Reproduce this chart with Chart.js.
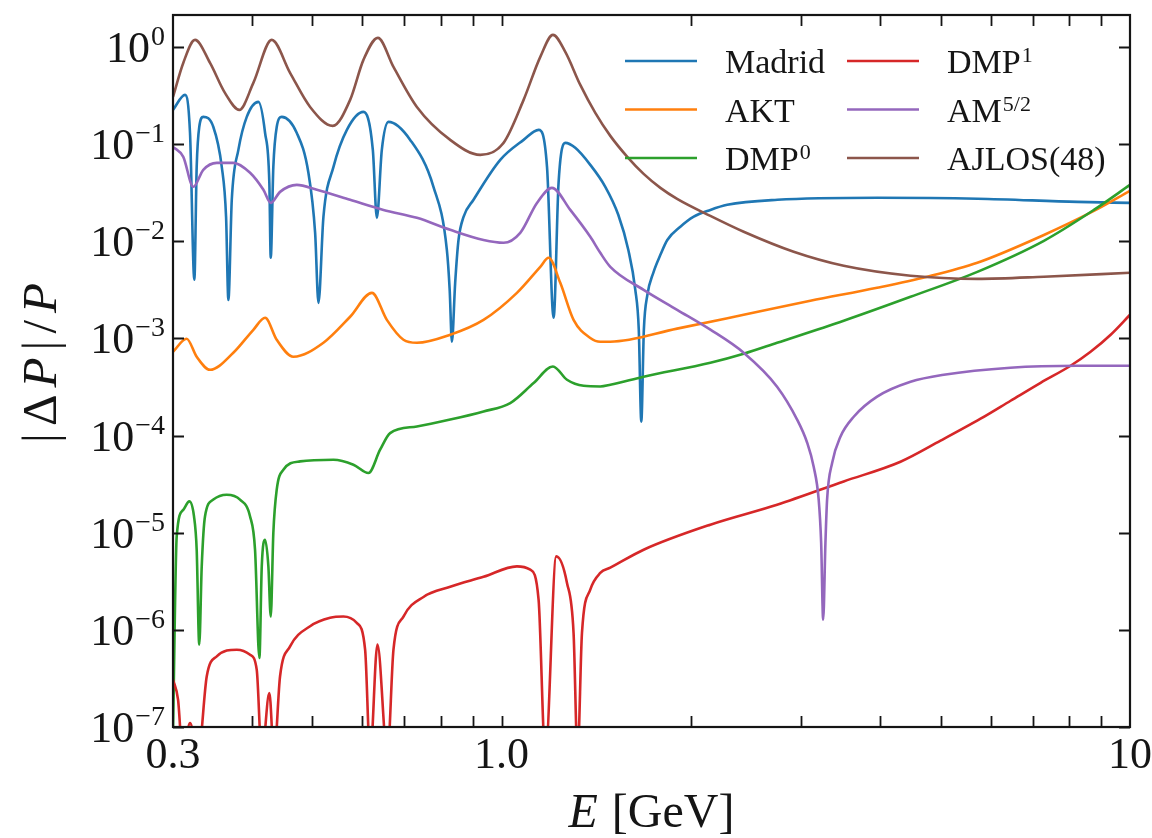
<!DOCTYPE html>
<html>
<head>
<meta charset="utf-8">
<script src="https://cdn.jsdelivr.net/npm/chart.js@4.4.1/dist/chart.umd.min.js"></script>
<style>
  html, body { margin: 0; padding: 0; background: #ffffff; }
  #wrap { width: 1152px; height: 838px; }
</style>
</head>
<body>
<div id="wrap"><canvas id="chart" width="1152" height="838"></canvas></div>
<script>
// Relative precision |ΔP|/P versus energy E [GeV] for six parametrisations.

const madridE = [0.300, 0.3135, 0.3193, 0.3244, 0.3272, 0.3303, 0.3352, 0.3478, 0.3587, 0.3644, 0.3675, 0.3721, 0.3812, 0.3931, 0.4102, 0.4204, 0.4270, 0.4292, 0.4333, 0.4387, 0.4469, 0.4722, 0.4927, 0.5050, 0.5112, 0.5206, 0.5401, 0.5673, 0.6028, 0.6239, 0.6332, 0.6448, 0.6606, 0.7154, 0.7791, 0.8183, 0.8268, 0.8336, 0.8436, 0.8540, 0.8699, 0.9023, 0.9952, 1.0840, 1.1452, 1.1811, 1.2100, 1.2322, 1.2629, 1.3099, 1.3840, 1.4623, 1.5335, 1.5908, 1.6323, 1.6532, 1.6685, 1.6843, 1.7062, 1.7435, 1.7894, 1.8354, 1.9254, 2.019, 2.149, 2.286, 2.747, 3.964, 5.72, 8.25, 10.0];
const madridV = [0.225, 0.321, 0.130, 0.00401, 0.0582, 0.150, 0.1905, 0.150, 0.0582, 0.0178, 0.00249, 0.0267, 0.0871, 0.1905, 0.272, 0.130, 0.0399, 0.00675, 0.0582, 0.150, 0.1905, 0.130, 0.0506, 0.0122, 0.00232, 0.0178, 0.0582, 0.140, 0.2143, 0.0871, 0.0174, 0.0871, 0.169, 0.1104, 0.0363, 0.00816, 0.00316, 0.000923, 0.00373, 0.0103, 0.0178, 0.0267, 0.0688, 0.1104, 0.140, 0.0582, 0.00163, 0.0399, 0.1028, 0.0914, 0.0611, 0.0363, 0.0187, 0.00816, 0.00316, 0.00123, 0.000139, 0.00123, 0.00281, 0.00473, 0.00724, 0.0103, 0.0141, 0.0178, 0.0210, 0.0237, 0.0267, 0.0280, 0.0274, 0.0254, 0.0248];

const aktE = [0.300, 0.3154, 0.3272, 0.3436, 0.3742, 0.4027, 0.4204, 0.4387, 0.4664, 0.5206, 0.5741, 0.6218, 0.6568, 0.6980, 0.7332, 0.8284, 0.9360, 1.0578, 1.1524, 1.1879, 1.2399, 1.3018, 1.3840, 1.4356, 1.4894, 1.9025, 2.428, 3.100, 3.959, 4.756, 5.715, 7.294, 8.76, 10.0];
const aktV = [7.28e-4, 9.91e-4, 6.47e-4, 4.75e-4, 7.11e-4, 1.226e-3, 1.63e-3, 9.68e-4, 6.47e-4, 9.01e-4, 1.67e-3, 2.94e-3, 1.55e-3, 9.68e-4, 9.01e-4, 1.09e-3, 1.55e-3, 2.94e-3, 5.45e-3, 6.75e-3, 3.73e-3, 1.55e-3, 1.01e-3, 9.23e-4, 9.23e-4, 1.26e-3, 1.75e-3, 2.44e-3, 3.32e-3, 4.31e-3, 6.00e-3, 1.16e-2, 2.05e-2, 3.30e-2];

const dmp0E = [0.300, 0.3041, 0.3115, 0.3185, 0.3240, 0.3272, 0.3303, 0.3333, 0.3373, 0.3478, 0.3652, 0.3835, 0.3979, 0.4052, 0.4117, 0.4153, 0.4204, 0.4255, 0.4292, 0.4333, 0.4387, 0.4495, 0.4779, 0.5401, 0.5811, 0.6139, 0.6408, 0.6647, 0.7332, 0.8284, 0.9360, 1.0322, 1.1244, 1.2072, 1.2708, 1.3505, 1.4356, 1.4894, 1.6828, 2.149, 2.428, 2.744, 3.503, 4.475, 5.715, 7.294, 8.76, 10.0];
const dmp0V = [9e-8, 9.16e-6, 1.72e-5, 2.10e-5, 1.47e-5, 6.68e-6, 7.05e-7, 4.50e-6, 1.47e-5, 2.19e-5, 2.46e-5, 2.19e-5, 1.47e-5, 6.68e-6, 5.13e-7, 4.50e-6, 8.47e-6, 4.50e-6, 1.37e-6, 9.93e-6, 2.77e-5, 4.44e-5, 5.42e-5, 5.64e-5, 5.01e-5, 4.11e-5, 7.14e-5, 1.06e-4, 1.24e-4, 1.46e-4, 1.77e-4, 2.16e-4, 3.47e-4, 5.14e-4, 3.75e-4, 3.25e-4, 3.20e-4, 3.33e-4, 4.03e-4, 5.61e-4, 6.95e-4, 9.01e-4, 1.52e-3, 2.68e-3, 4.84e-3, 1.01e-2, 2.10e-2, 3.80e-2];

const dmp1E = [0.300, 0.3056, 0.3110, 0.3193, 0.3288, 0.3395, 0.3522, 0.3790, 0.3979, 0.4077, 0.4153, 0.4270, 0.4344, 0.4441, 0.4607, 0.4958, 0.5335, 0.5601, 0.5882, 0.6065, 0.6178, 0.6345, 0.6581, 0.6729, 0.6980, 0.7511, 0.8284, 0.9360, 1.0578, 1.1109, 1.1452, 1.1737, 1.2219, 1.2708, 1.3018, 1.3211, 1.3425, 1.3840, 1.4356, 1.4894, 1.6828, 2.149, 2.744, 3.503, 4.313, 4.995, 5.784, 6.456, 7.207, 8.043, 8.655, 9.316, 10.0];
const dmp1V = [3.08e-7, 1.91e-7, 5e-8, 1.1e-7, 5e-8, 3.33e-7, 5.34e-7, 6.25e-7, 5.55e-7, 3.90e-7, 5e-8, 2.24e-7, 5e-8, 3.33e-7, 6.76e-7, 1.09e-6, 1.33e-6, 1.37e-6, 1.18e-6, 6.25e-7, 5e-8, 7.05e-7, 5e-8, 6.25e-7, 1.37e-6, 2.18e-6, 2.77e-6, 3.51e-6, 4.50e-6, 4.16e-6, 2.05e-6, 5e-8, 5.70e-6, 3.04e-6, 9.29e-7, 5e-8, 9.29e-7, 2.59e-6, 3.85e-6, 4.36e-6, 6.68e-6, 1.21e-5, 1.94e-5, 3.37e-5, 5.37e-5, 8.85e-5, 1.49e-4, 2.28e-4, 3.49e-4, 5.23e-4, 7.28e-4, 1.09e-3, 1.75e-3];

const am52E = [0.300, 0.3115, 0.3232, 0.3352, 0.3522, 0.3742, 0.3979, 0.4178, 0.4292, 0.4441, 0.4722, 0.5082, 0.5741, 0.6487, 0.7332, 0.8284, 0.9360, 1.0072, 1.0707, 1.1384, 1.2026, 1.2863, 1.3840, 1.4356, 1.4894, 1.6828, 1.9025, 2.149, 2.428, 2.744, 2.953, 3.064, 3.138, 3.196, 3.225, 3.249, 3.276, 3.296, 3.358, 3.461, 3.634, 3.959, 4.475, 5.055, 6.45, 8.24, 10.0];
const am52V = [0.0936, 0.0739, 0.0363, 0.0543, 0.0641, 0.0641, 0.0506, 0.0338, 0.0248, 0.0322, 0.0380, 0.0338, 0.0267, 0.0210, 0.0174, 0.0131, 0.0103, 0.00964, 0.0122, 0.0248, 0.0354, 0.0210, 0.0111, 0.00760, 0.00545, 0.00316, 0.00197, 0.00123, 7.11e-4, 3.18e-4, 1.46e-4, 8.43e-5, 4.77e-5, 2.19e-5, 7.89e-6, 1.27e-6, 7.89e-6, 2.19e-5, 5.25e-5, 9.72e-5, 1.56e-4, 2.51e-4, 3.57e-4, 4.22e-4, 4.99e-4, 5.23e-4, 5.23e-4];

const ajlosE = [0.300, 0.3115, 0.3252, 0.3436, 0.3629, 0.3826, 0.4027, 0.4308, 0.4607, 0.4958, 0.5388, 0.5741, 0.6028, 0.6355, 0.6729, 0.7332, 0.8284, 0.9249, 1.0072, 1.0840, 1.1524, 1.2072, 1.2629, 1.3343, 1.4097, 1.4894, 1.5850, 1.6828, 1.7894, 1.9025, 2.149, 2.428, 2.916, 3.503, 4.475, 5.715, 7.294, 10.0];
const ajlosV = [0.306, 0.684, 1.18, 0.684, 0.336, 0.225, 0.426, 1.18, 0.541, 0.241, 0.154, 0.285, 0.735, 1.24, 0.623, 0.241, 0.1104, 0.0774, 0.1028, 0.285, 0.789, 1.33, 0.888, 0.406, 0.2094, 0.1214, 0.0739, 0.0493, 0.0354, 0.0273, 0.0182, 0.0125, 0.00778, 0.00558, 0.00441, 0.00410, 0.00431, 0.00473];

// series names, superscripts and colours (legend order: column-major, 3 rows)
const seriesNames = ['Madrid', 'AKT', 'DMP', 'DMP', 'AM', 'AJLOS(48)'];
const seriesSups  = ['', '', '0', '1', '5/2', ''];
const seriesColors = ['#1f77b4', '#ff7f0e', '#2ca02c', '#d62728', '#9467bd', '#8c564b'];
const seriesE = [madridE, aktE, dmp0E, dmp1E, am52E, ajlosE];
const seriesV = [madridV, aktV, dmp0V, dmp1V, am52V, ajlosV];

// axis ticks and labels
const xTickLabelValues = [0.3, 1, 10];
const xTickLabels = ['0.3', '1.0', '10'];
const xTickMarks = [0.4, 0.5, 0.6, 0.7, 0.8, 0.9, 1, 2, 3, 4, 5, 6, 7, 8, 9];
const yTickValues = [1, 1e-1, 1e-2, 1e-3, 1e-4, 1e-5, 1e-6, 1e-7];
const yTickExponents = ['0', '\u22121', '\u22122', '\u22123', '\u22124', '\u22125', '\u22126', '\u22127'];

const SERIF = '"Liberation Serif", "DejaVu Serif", serif';
const INK = '#151515';

const datasets = seriesNames.map((name, i) => ({
  label: name + seriesSups[i],
  sup: seriesSups[i],
  baseName: name,
  data: seriesE[i].map((e, k) => ({ x: e, y: seriesV[i][k] })),
  borderColor: seriesColors[i],
  backgroundColor: seriesColors[i],
  borderWidth: 2.6,
  pointRadius: 0,
  fill: false,
  cubicInterpolationMode: 'monotone',
  order: seriesNames.length - i
}));

// frame, inward ticks, tick labels, axis titles and legend
const decorations = {
  id: 'decorations',
  afterDraw(chart) {
    const { ctx, chartArea: a, scales } = chart;
    const xs = scales.x, ys = scales.y;
    ctx.save();

    // inward tick marks on all four sides
    ctx.strokeStyle = INK;
    ctx.lineWidth = 1.8;
    const TL = 11;
    ctx.beginPath();
    xTickMarks.forEach(v => {
      const px = Math.round(xs.getPixelForValue(v)) + 0.5;
      ctx.moveTo(px, a.bottom); ctx.lineTo(px, a.bottom - TL);
      ctx.moveTo(px, a.top); ctx.lineTo(px, a.top + TL);
    });
    yTickValues.forEach(v => {
      const py = Math.round(ys.getPixelForValue(v)) + 0.5;
      ctx.moveTo(a.left, py); ctx.lineTo(a.left + TL, py);
      ctx.moveTo(a.right, py); ctx.lineTo(a.right - TL, py);
    });
    ctx.stroke();

    // frame
    ctx.lineWidth = 2.2;
    ctx.strokeRect(a.left, a.top, a.right - a.left, a.bottom - a.top);

    ctx.fillStyle = INK;
    ctx.textBaseline = 'alphabetic';

    // y tick labels 10^k
    const mainFont = '44px ' + SERIF;
    const supFont = '28px ' + SERIF;
    yTickValues.forEach((v, i) => {
      const py = ys.getPixelForValue(v);
      ctx.font = supFont;
      const sw = ctx.measureText(yTickExponents[i]).width;
      ctx.font = mainFont;
      const mw = ctx.measureText('10').width;
      const right = a.left - 8;
      ctx.textAlign = 'left';
      ctx.fillText('10', right - sw - mw - 1, py + 15);
      ctx.font = supFont;
      ctx.fillText(yTickExponents[i], right - sw, py - 2);
    });

    // x tick labels
    ctx.font = mainFont;
    ctx.textAlign = 'center';
    xTickLabelValues.forEach((v, i) => {
      ctx.fillText(xTickLabels[i], xs.getPixelForValue(v), 768);
    });

    // x axis title: E [GeV]
    const tFont = '48px ' + SERIF;
    const tItal = 'italic 48px ' + SERIF;
    ctx.textAlign = 'left';
    ctx.font = tItal;
    const wE = ctx.measureText('E').width;
    ctx.font = tFont;
    const wR = ctx.measureText('[GeV]').width;
    const gap = 14;
    const cx = (a.left + a.right) / 2;
    const sx = cx - (wE + gap + wR) / 2;
    ctx.font = tItal; ctx.fillText('E', sx, 827);
    ctx.font = tFont; ctx.fillText('[GeV]', sx + wE + gap, 827);

    // y axis title: |ΔP|/P (rotated)
    const pieces = [['|', false], ['\u0394', false], ['P', true], ['|', false], ['/', false], ['P', true]];
    const yFont = '49px ' + SERIF, yItal = 'italic 49px ' + SERIF;
    const widths = pieces.map(([t, it]) => { ctx.font = it ? yItal : yFont; return ctx.measureText(t).width; });
    const natural = widths.reduce((s, w) => s + w, 0);
    const target = 160;
    const g = Math.max(0, (target - natural) / (pieces.length - 1));
    ctx.save();
    ctx.translate(56, (a.top + a.bottom) / 2 - 8);
    ctx.rotate(-Math.PI / 2);
    let tx = -target / 2;
    pieces.forEach(([t, it], i) => {
      ctx.font = it ? yItal : yFont;
      ctx.fillText(t, tx, 0);
      tx += widths[i] + g;
    });
    ctx.restore();

    // legend: two columns of three entries
    const lFont = '34px ' + SERIF, lSup = '22px ' + SERIF;
    chart.data.datasets.forEach((ds, i) => {
      const col = Math.floor(i / 3), row = i % 3;
      const x0 = 625 + col * 222;
      const yRow = 61 + row * 48.5;
      ctx.strokeStyle = ds.borderColor;
      ctx.lineWidth = 2.6;
      ctx.beginPath();
      ctx.moveTo(x0, yRow); ctx.lineTo(x0 + 72, yRow);
      ctx.stroke();
      ctx.fillStyle = INK;
      ctx.font = lFont;
      ctx.fillText(ds.baseName, x0 + 100, yRow + 12);
      if (ds.sup) {
        const w = ctx.measureText(ds.baseName).width;
        ctx.font = lSup;
        ctx.fillText(ds.sup, x0 + 100 + w + 1, yRow + 1);
      }
    });

    ctx.restore();
  }
};

new Chart(document.getElementById('chart'), {
  type: 'line',
  data: { datasets },
  options: {
    responsive: false,
    animation: false,
    devicePixelRatio: 1,
    layout: { padding: { left: 0, right: 22, top: 15, bottom: 0 } },
    plugins: { legend: { display: false }, tooltip: { enabled: false } },
    scales: {
      x: {
        type: 'logarithmic', min: 0.3, max: 10,
        grid: { display: false }, border: { display: false },
        ticks: { display: false },
        afterFit(s) { s.height = 111; }
      },
      y: {
        type: 'logarithmic', min: 1e-7, max: 2.13,
        grid: { display: false }, border: { display: false },
        ticks: { display: false },
        afterFit(s) { s.width = 173; }
      }
    }
  },
  plugins: [decorations]
});
</script>
</body>
</html>
